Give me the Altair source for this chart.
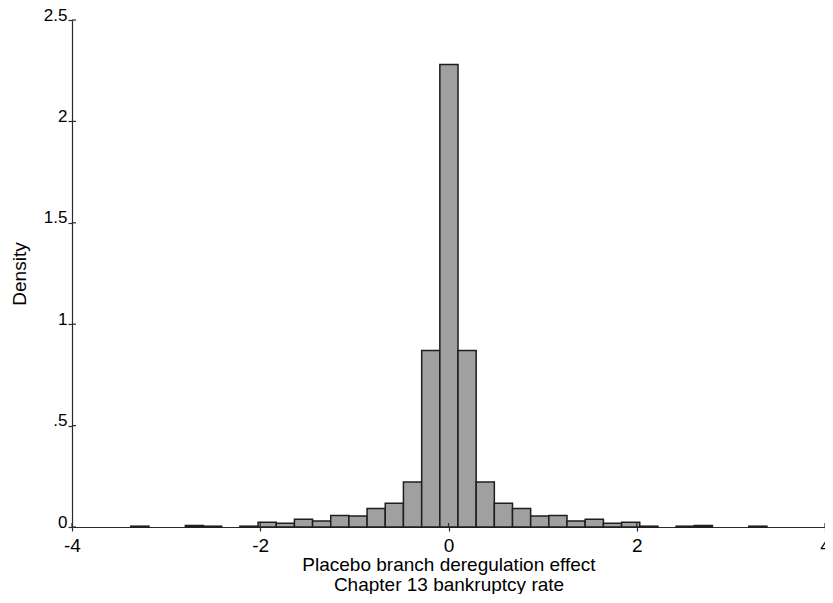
import altair as alt
import pandas as pd

# Histogram bins: 35 bins of width ~0.193
bin_left = [-3.375, -3.182, -2.989, -2.796, -2.603, -2.410, -2.216,
            -2.023, -1.830, -1.637, -1.444, -1.251, -1.058, -0.865,
            -0.672, -0.479, -0.285, -0.092, 0.101, 0.294, 0.487,
            0.680, 0.873, 1.066, 1.259, 1.452, 1.646, 1.839,
            2.032, 2.225, 2.418, 2.611, 2.804, 2.997, 3.190]
bin_right = [-3.182, -2.989, -2.796, -2.603, -2.410, -2.216, -2.023,
             -1.830, -1.637, -1.444, -1.251, -1.058, -0.865, -0.672,
             -0.479, -0.285, -0.092, 0.101, 0.294, 0.487, 0.680,
             0.873, 1.066, 1.259, 1.452, 1.646, 1.839, 2.032,
             2.225, 2.418, 2.611, 2.804, 2.997, 3.190, 3.383]
density = [0.004, 0.0, 0.0, 0.008, 0.004, 0.0, 0.004,
           0.023, 0.018, 0.038, 0.030, 0.057, 0.054, 0.091,
           0.117, 0.222, 0.870, 2.280, 0.870, 0.222, 0.117,
           0.091, 0.054, 0.057, 0.030, 0.038, 0.018, 0.023,
           0.004, 0.0, 0.004, 0.008, 0.0, 0.0, 0.004]

x_ticks = [-4, -2, 0, 2, 4]
y_ticks = [0, 0.5, 1, 1.5, 2, 2.5]

x_title = ["Placebo branch deregulation effect", "Chapter 13 bankruptcy rate"]
y_title = "Density"

FONT = "Liberation Sans"
AX = "#2a2a2a"
W, H = 753, 507

df = pd.DataFrame({"lo": bin_left, "hi": bin_right, "density": density})
xt = pd.DataFrame({"v": x_ticks})
yt = pd.DataFrame({"v": y_ticks})

xscale = alt.Scale(domain=[-4, 4], nice=False, zero=False)
yscale = alt.Scale(domain=[0, 2.5], nice=False)

x_axis = alt.Axis(
    values=x_ticks, title=x_title, labelExpr="'' + datum.value",
    grid=False, domainColor=AX, domainWidth=1.2, tickColor=AX,
    tickSize=4, tickWidth=1.2, labelPadding=5, labelFontSize=19,
    labelFont=FONT, labelColor="black", titleFont=FONT,
    titleFontSize=19, titleFontWeight="normal", titleColor="black",
    titleLineHeight=20, titleBaseline="top", titleY=28,
    titleX=W / 2, titleAlign="center", labelFlush=False)
y_axis = alt.Axis(
    values=y_ticks, title=y_title,
    labelExpr="datum.value == 0.5 ? '.5' : '' + datum.value",
    grid=False, domainColor=AX, domainWidth=1.2, tickColor=AX,
    tickSize=4, tickWidth=1.2, labelPadding=1, labelFontSize=17,
    labelFont=FONT, labelColor="black", labelBaseline="alphabetic",
    labelAlign="right", titleFont=FONT, titleFontSize=19,
    titleFontWeight="normal", titleColor="black", titleAngle=270,
    titleBaseline="alphabetic", titleAlign="center",
    titleX=-47, titleY=H / 2, labelFlush=False)

bars = alt.Chart(df).transform_filter("datum.density > 0").mark_rect(
    fill="#a0a0a0", stroke="#1e1e1e", strokeWidth=1.5
).encode(
    x=alt.X("lo:Q", scale=xscale, axis=x_axis),
    x2="hi:Q",
    y=alt.Y("density:Q", scale=yscale, axis=y_axis),
    y2=alt.datum(0),
)

ytick_in = alt.Chart(yt).mark_rule(color=AX, strokeWidth=1.2).encode(
    y=alt.Y("v:Q", scale=yscale, axis=y_axis),
    x=alt.value(0), x2=alt.value(4),
)
xtick_in = alt.Chart(xt).mark_rule(color=AX, strokeWidth=1.2).encode(
    x=alt.X("v:Q", scale=xscale, axis=x_axis),
    y=alt.value(H), y2=alt.value(H - 4),
)

chart = alt.layer(bars, ytick_in, xtick_in).properties(
    width=W, height=H,
    autosize=alt.AutoSizeParams(type="none"),
    padding={"left": 64, "top": 12, "right": 0, "bottom": 67},
).configure_view(stroke=None)

chart.save("out.html", embed_options={"renderer": "svg", "actions": False})
